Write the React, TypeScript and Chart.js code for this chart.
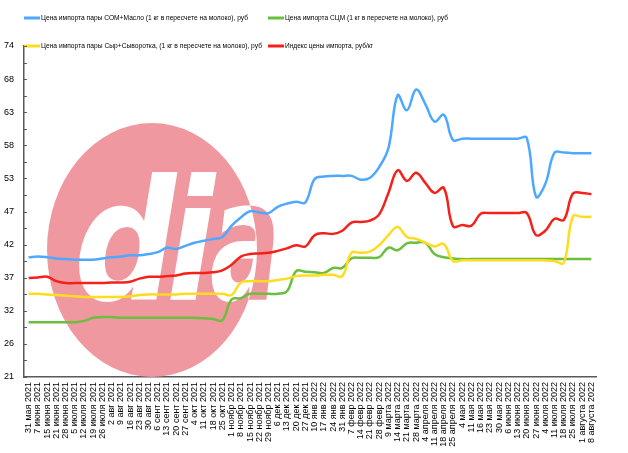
import { useEffect, useRef } from 'react';
import { Chart, registerables } from 'chart.js';

Chart.register(...registerables);

const labels = [
  "31 мая 2021", "7 июня 2021", "15 июня 2021", "21 июня 2021", "28 июня 2021",
  "5 июля 2021", "12 июля 2021", "19 июля 2021", "26 июля 2021", "2 авг 2021",
  "9 авг 2021", "16 авг 2021", "23 авг 2021", "30 авг 2021", "6 сент 2021",
  "13 сент 2021", "20 сент 2021", "27 сент 2021", "4 окт 2021", "11 окт 2021",
  "18 окт 2021", "25 окт 2021", "1 ноябр 2021", "8 ноябр 2021", "15 ноябр 2021",
  "22 ноябр 2021", "29 ноябр 2021", "6 дек 2021", "13 дек 2021", "20 дек 2021",
  "27 дек 2021", "10 янв 2022", "17 янв 2022", "24 янв 2022", "31 янв 2022",
  "7 февр 2022", "14 февр 2022", "21 февр 2022", "28 февр 2022", "9 марта 2022",
  "14 марта 2022", "21 марта 2022", "28 марта 2022", "4 апреля 2022", "11 апреля 2022",
  "18 апреля 2022", "25 апреля 2022", "4 мая 2022", "11 мая 2022", "16 мая 2022",
  "23 мая 2022", "30 мая 2022", "6 июня 2022", "13 июня 2022", "20 июня 2022",
  "27 июня 2022", "4 июля 2022", "11 июля 2022", "18 июля 2022", "25 июля 2022",
  "1 августа 2022", "8 августа 2022",
];

const seriesNames = [
  "Цена импорта пары СОМ+Масло (1 кг в пересчете на молоко), руб",
  "Цена импорта СЦМ (1 кг в пересчете на молоко), руб",
  "Цена импорта пары Сыр+Сыворотка, (1 кг в пересчете на молоко), руб",
  "Индекс цены импорта, руб/кг",
];

const somButter = [
  40.0, 40.1, 40.0, 39.8, 39.7, 39.6, 39.6, 39.6, 39.8, 40.0,
  40.1, 40.3, 40.3, 40.5, 40.8, 41.5, 41.3, 41.8, 42.3, 42.6,
  42.9, 43.2, 45.0, 46.3, 47.3, 47.1, 47.0, 48.0, 48.5, 48.8,
  48.7, 52.4, 52.8, 52.9, 52.9, 52.9, 52.3, 52.6, 54.3, 57.3,
  65.7, 63.3, 66.6, 64.3, 61.5, 62.6, 58.6, 58.8, 58.8, 58.8,
  58.8, 58.8, 58.8, 58.8, 58.9, 49.6, 51.6, 56.6, 56.6, 56.5,
  56.5, 56.5,
];

const scm = [
  29.7, 29.7, 29.7, 29.7, 29.7, 29.7, 29.9, 30.4, 30.5, 30.5,
  30.4, 30.4, 30.4, 30.4, 30.4, 30.4, 30.4, 30.4, 30.4, 30.3,
  30.2, 30.0, 33.3, 33.5, 34.2, 34.2, 34.2, 34.2, 34.6, 37.8,
  37.7, 37.6, 37.5, 38.3, 38.3, 39.8, 39.9, 39.9, 40.0, 41.5,
  41.1, 42.2, 42.3, 42.3, 40.5, 40.0, 39.8, 39.7, 39.7, 39.7,
  39.7, 39.7, 39.7, 39.7, 39.7, 39.7, 39.7, 39.7, 39.7, 39.7,
  39.7, 39.7,
];

const cheeseWhey = [
  34.2, 34.2, 34.1, 34.0, 33.9, 33.8, 33.7, 33.7, 33.7, 33.7,
  33.7, 33.8, 34.0, 34.1, 34.1, 34.1, 34.1, 34.2, 34.2, 34.2,
  34.2, 34.2, 34.0, 36.0, 36.2, 36.2, 36.2, 36.4, 36.6, 37.0,
  37.1, 37.1, 37.2, 37.2, 37.0, 40.7, 40.7, 40.9, 41.9, 43.5,
  44.8, 43.2, 42.9, 42.3, 41.7, 42.1, 39.4, 39.5, 39.5, 39.5,
  39.5, 39.5, 39.5, 39.5, 39.5, 39.5, 39.5, 39.4, 39.1, 46.5,
  46.4, 46.4,
];

const priceIndex = [
  36.7, 36.8, 36.9, 36.2, 35.9, 35.9, 35.9, 35.9, 35.9, 36.0,
  36.0, 36.1, 36.6, 36.9, 36.9, 37.0, 37.1, 37.4, 37.5, 37.5,
  37.6, 37.9, 38.8, 40.1, 40.5, 40.6, 40.7, 41.0, 41.4, 41.9,
  41.7, 43.5, 43.8, 43.7, 44.2, 45.5, 45.6, 45.8, 46.8, 50.2,
  53.8, 52.1, 53.4, 51.8, 50.2, 51.0, 44.9, 45.1, 45.0, 46.9,
  47.0, 47.0, 47.0, 47.0, 47.0, 43.5, 44.2, 46.1, 45.9, 50.1,
  50.2, 50.0,
];

const yMin = 21;
const yMax = 73.5;
const yStep = 5.25;

const colors = ['#4FA8FF', '#6BBE3E', '#FFDC1E', '#F52019'];
const PINK = '#F0989F';
const FONT = '"Liberation Sans", Arial, sans-serif';

const watermarkPlugin = {
  id: 'watermark',
  beforeDatasetsDraw(chart: any) {
    const ctx = chart.ctx as CanvasRenderingContext2D;
    const glyphs = [
      { ch: 'd', x: 74, sx: 0.85 },
      { ch: 'i', x: 166, sx: 0.85 },
      { ch: 'a', x: 210, sx: 0.62 },
    ];
    const drawText = (color: string) => {
      glyphs.forEach((g) => {
        ctx.save();
        ctx.translate(g.x, 300);
        ctx.scale(g.sx, 1);
        ctx.font = 'italic bold 168px "DejaVu Sans"';
        ctx.textBaseline = 'alphabetic';
        ctx.fillStyle = color;
        ctx.fillText(g.ch, 0, 0);
        ctx.restore();
      });
    };
    ctx.save();
    drawText(PINK);
    ctx.beginPath();
    ctx.ellipse(152, 250, 105, 127, 0, 0, Math.PI * 2);
    ctx.fillStyle = PINK;
    ctx.fill();
    ctx.clip();
    drawText('#FFFFFF');
    ctx.restore();
  },
};

const legendPlugin = {
  id: 'customLegend',
  afterDraw(chart: any) {
    const ctx = chart.ctx as CanvasRenderingContext2D;
    const pos = [
      { x: 24, y: 18, w: 207 },
      { x: 268, y: 18, w: 163 },
      { x: 24, y: 46, w: 221 },
      { x: 268, y: 46, w: 88 },
    ];
    ctx.save();
    seriesNames.forEach((name, i) => {
      const p = pos[i];
      ctx.strokeStyle = colors[i];
      ctx.lineWidth = 3;
      ctx.beginPath();
      ctx.moveTo(p.x, p.y);
      ctx.lineTo(p.x + 16, p.y);
      ctx.stroke();
      ctx.font = '8px ' + FONT;
      ctx.fillStyle = '#000';
      ctx.textBaseline = 'middle';
      ctx.textAlign = 'left';
      const mw = ctx.measureText(name).width;
      const sx = Math.min(1, p.w / mw);
      ctx.save();
      ctx.translate(p.x + 17, p.y);
      ctx.scale(sx, 1);
      ctx.fillText(name, 0, 0);
      ctx.restore();
    });
    ctx.restore();

    // inner tick marks on the y axis
    const ys = chart.scales.y;
    const left = chart.chartArea.left;
    ctx.save();
    ctx.strokeStyle = '#595959';
    ctx.lineWidth = 1;
    const vals: number[] = [];
    for (let v = yMin; v <= yMax + 0.001; v += yStep / 2) vals.push(v);
    vals.forEach((v) => {
      const py = Math.round(ys.getPixelForValue(v)) + 0.5;
      ctx.beginPath();
      ctx.moveTo(left, py);
      ctx.lineTo(left + 3, py);
      ctx.stroke();
    });
    ctx.restore();
  },
};

export default function App() {
  const ref = useRef<HTMLCanvasElement>(null);
  useEffect(() => {
    document.body.style.margin = '0';
    const mk = (label: string, data: number[], color: string, order: number) => ({
      label,
      data,
      borderColor: color,
      backgroundColor: color,
      borderWidth: 2.5,
      pointRadius: 0,
      tension: 0.4,
      fill: false,
      order,
    });
    const chart = new Chart(ref.current!, {
      type: 'line',
      data: {
        labels,
        datasets: [
          mk(seriesNames[0], somButter, colors[0], 4),
          mk(seriesNames[1], scm, colors[1], 3),
          mk(seriesNames[2], cheeseWhey, colors[2], 2),
          mk(seriesNames[3], priceIndex, colors[3], 1),
        ],
      },
      options: {
        responsive: false,
        animation: false,
        devicePixelRatio: 1,
        layout: { padding: { top: 46, right: 32, left: 0, bottom: 0 } },
        plugins: { legend: { display: false }, tooltip: { enabled: false } },
        scales: {
          x: {
            type: 'category',
            offset: true,
            grid: { display: false, drawTicks: false },
            border: { display: true, color: '#595959', width: 1.5 },
            ticks: {
              autoSkip: false,
              minRotation: 90,
              maxRotation: 90,
              padding: 5,
              color: '#000',
              font: { family: FONT, size: 9 },
            },
            afterFit: (s: any) => { s.height = 76; },
          },
          y: {
            min: yMin,
            max: yMax,
            grid: { display: false, drawTicks: false },
            border: { display: true, color: '#595959', width: 1.5 },
            ticks: {
              stepSize: yStep,
              padding: 10,
              color: '#000',
              font: { family: FONT, size: 9 },
              callback: (v: any) => String(Math.round(Number(v))),
            },
            afterFit: (s: any) => { s.width = 24; },
          },
        },
      },
      plugins: [watermarkPlugin, legendPlugin],
    } as any);
    return () => chart.destroy();
  }, []);
  return (
    <canvas
      ref={ref}
      width={628}
      height={453}
      style={{ display: 'block', width: 628, height: 453 }}
    />
  );
}
